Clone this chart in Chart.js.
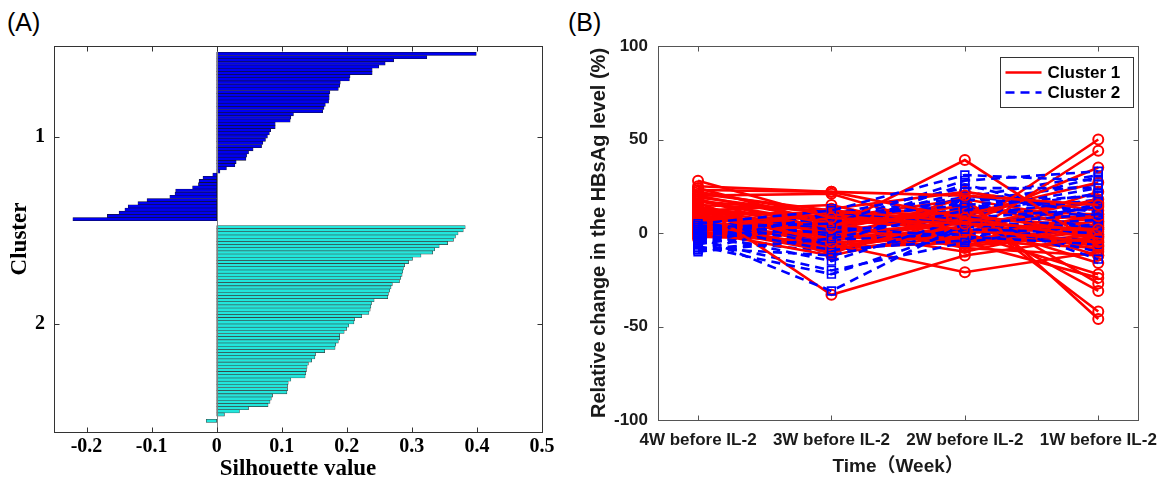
<!DOCTYPE html>
<html><head><meta charset="utf-8">
<script src="https://cdn.jsdelivr.net/npm/chart.js@4.4.1/dist/chart.umd.min.js"></script>
<style>
html,body{margin:0;padding:0;background:#fff;width:1169px;height:485px;overflow:hidden;}
#wa{position:absolute;left:0;top:0;width:560px;height:485px;}
#wb{position:absolute;left:560px;top:0;width:609px;height:485px;}
.lab{position:absolute;font-family:"Liberation Sans",Arial,sans-serif;font-size:25px;color:#000;line-height:28px;}
</style></head><body>
<div class="lab" style="left:7px;top:8px">(A)</div>
<div class="lab" style="left:568px;top:8px">(B)</div>
<div id="wa"><canvas id="ca" width="560" height="485"></canvas></div>
<div id="wb"><canvas id="cb" width="609" height="485"></canvas></div>
<script>
// ---------- Panel A: silhouette values ----------
const silCluster1 = [0.399, 0.323, 0.272, 0.259, 0.249, 0.239, 0.239, 0.205, 0.204, 0.190, 0.189, 0.187, 0.174, 0.173, 0.173, 0.172, 0.167, 0.165, 0.163, 0.118, 0.114, 0.113, 0.090, 0.090, 0.083, 0.081, 0.078, 0.075, 0.071, 0.069, 0.056, 0.049, 0.046, 0.045, 0.030, 0.028, 0.015, 0.005, -0.006, -0.021, -0.027, -0.028, -0.037, -0.063, -0.064, -0.072, -0.107, -0.121, -0.136, -0.141, -0.150, -0.168, -0.221];
const silCluster2 = [0.382, 0.379, 0.371, 0.367, 0.364, 0.355, 0.342, 0.335, 0.332, 0.314, 0.301, 0.295, 0.289, 0.287, 0.286, 0.285, 0.283, 0.281, 0.270, 0.268, 0.266, 0.264, 0.263, 0.242, 0.238, 0.237, 0.236, 0.234, 0.223, 0.212, 0.211, 0.203, 0.200, 0.196, 0.189, 0.189, 0.187, 0.183, 0.182, 0.166, 0.152, 0.151, 0.146, 0.141, 0.139, 0.138, 0.137, 0.136, 0.114, 0.110, 0.109, 0.109, 0.108, 0.086, 0.084, 0.082, 0.079, 0.049, 0.035, 0.012, 0.0, -0.016];
const silTicks = [-0.2, -0.1, 0, 0.1, 0.2, 0.3, 0.4, 0.5];
const silTickLabels = ['-0.2', '-0.1', '0', '0.1', '0.2', '0.3', '0.4', '0.5'];
const clusterNames = ['1', '2'];

// ---------- Panel B: relative change of HBsAg (%) ----------
const timeLabels = ['4W before IL-2', '3W before IL-2', '2W before IL-2', '1W before IL-2'];
const changeTicks = [-100, -50, 0, 50, 100];
const changeTickLabels = ['-100', '-50', '0', '50', '100'];
const cluster1Lines = [
  [28, 8, 5, 2], [25, 22, 20, 15], [23, 22, 8, -3], [21, 12, 6, 9], [19, 10, 2, -5],
  [17, 5, 10, 0], [15, -33, -12, -2], [14, 3, 39, -7], [13, 7, 2, 50], [12, -5, -2, 44],
  [11, 0, 5, 35], [10, 11, 10, 27], [9, -3, 19, -46], [8, 4, 12, -42], [7, -6, -21, -10],
  [6, 9, 0, -22], [5, -8, -5, -24], [4, 2, 15, -27], [3, -10, 8, -31], [2, 6, -8, -12],
  [1, -12, 3, 18], [0, 1, -10, 5], [-2, -4, 6, -16], [-3, 13, 22, 12], [18, -2, -3, -5],
  [20, 21, 0, 3], [16, -9, 4, -1], [8, -11, 14, 7], [5, 3, -4, -8], [12, 15, -1, 22],
  [22, 10, 8, 4], [20, 6, 12, 10], [18, 2, -3, 2], [15, 12, 5, -6], [14, -7, 0, 8],
  [11, 9, 14, 3], [10, -2, 6, -9], [9, 4, -6, 1], [7, 8, 18, 6], [6, -4, 3, 14],
  [4, -9, -2, -4], [3, 10, 7, -2], [1, 5, 10, 16], [0, -6, 2, -7], [-1, 0, -5, 10],
  [13, 1, 9, -12], [17, 11, 1, 6], [24, 5, -7, -1]
];
const cluster2Lines = [
  [5, 12, 31, 28], [3, 5, 28, 33], [-2, -31, 5, 10], [-7, -22, 2, 0], [-10, -3, 12, 24],
  [-5, 10, 24, 24], [0, -15, 8, 13], [2, 6, 18, 15], [-4, -20, -5, 5], [4, 0, 10, -14],
  [-8, -12, 3, 7], [1, 8, 15, 20], [-3, 3, -2, -6], [6, -6, 20, 11], [-6, 11, 6, 3],
  [3, -9, -4, 16], [-1, 2, 26, 8], [0, 4, 12, 30], [5, -4, 0, -4], [-9, 7, 16, 2],
  [2, 13, 4, 14], [-2, -1, 9, 18], [-4, 9, 17, 26], [1, -7, 11, 21], [-6, 4, 22, 12],
  [3, 7, 6, -10], [-9, -2, 14, 9], [0, 10, 19, 31], [-3, -10, -1, 4], [4, 3, 13, 17]
];
const seriesNames = ['Cluster 1', 'Cluster 2'];

// ---------- shared plugin: MATLAB-like box with inward ticks ----------
const framePlugin = {
  id: 'frame',
  afterDatasetsDraw(chart, args, opts) {
    const {ctx, chartArea: a} = chart;
    const xs = chart.scales.x, ys = chart.scales.y;
    const L = opts.tickLen || 5;
    ctx.save();
    ctx.lineWidth = 1;
    if (opts.baseline !== undefined) {
      const bx = Math.round(xs.getPixelForValue(opts.baseline)) + 0.5;
      ctx.strokeStyle = opts.baselineColor;
      ctx.beginPath(); ctx.moveTo(bx, a.top); ctx.lineTo(bx, a.bottom); ctx.stroke();
    }
    ctx.strokeStyle = opts.color;
    const l = Math.round(a.left) + 0.5, r = Math.round(a.right) + 0.5;
    const t = Math.round(a.top) + 0.5, b = Math.round(a.bottom) + 0.5;
    ctx.strokeRect(l, t, r - l, b - t);
    ctx.beginPath();
    xs.ticks.forEach(tk => {
      const px = Math.round(xs.getPixelForValue(tk.value)) + 0.5;
      ctx.moveTo(px, b); ctx.lineTo(px, b - L);
      ctx.moveTo(px, t); ctx.lineTo(px, t + L);
    });
    ys.ticks.forEach(tk => {
      const py = Math.round(ys.getPixelForValue(tk.value)) + 0.5;
      ctx.moveTo(l, py); ctx.lineTo(l + L, py);
      ctx.moveTo(r, py); ctx.lineTo(r - L, py);
    });
    ctx.stroke();
    ctx.restore();
  }
};

// ---------- Panel A chart ----------
const topGap = 2, midGap = 1.5, bottomGap = 3;
const pos1 = silCluster1.map((v, i) => topGap + 0.5 + i);
const start2 = topGap + silCluster1.length + midGap + 0.5;
const pos2 = silCluster2.map((v, i) => start2 + i);
const yMaxA = start2 + silCluster2.length - 0.5 + bottomGap;
const centers = [
  pos1.reduce((s, v) => s + v, 0) / pos1.length,
  pos2.reduce((s, v) => s + v, 0) / pos2.length
];
const serif = '"Liberation Serif", "Times New Roman", serif';

new Chart(document.getElementById('ca'), {
  type: 'bar',
  plugins: [framePlugin],
  data: {
    datasets: [
      { data: silCluster1.map((v, i) => ({x: v, y: pos1[i]})), backgroundColor: '#0000F0', borderColor: '#111133', borderWidth: 0.6, borderSkipped: false, grouped: false, barPercentage: 1, categoryPercentage: 1 },
      { data: silCluster2.map((v, i) => ({x: v, y: pos2[i]})), backgroundColor: '#22E6DC', borderColor: '#3a3a3a', borderWidth: 0.6, borderSkipped: false, grouped: false, barPercentage: 1, categoryPercentage: 1 }
    ]
  },
  options: {
    indexAxis: 'y',
    responsive: false,
    animation: false,
    layout: { padding: { top: 46, right: 18, left: 0, bottom: 0 } },
    plugins: {
      legend: { display: false },
      tooltip: { enabled: false },
      frame: { color: '#333333', tickLen: 5, baseline: 0, baselineColor: '#808080' }
    },
    scales: {
      x: {
        type: 'linear', min: -0.25, max: 0.5,
        grid: { display: false, drawTicks: false }, border: { display: false },
        afterBuildTicks: s => { s.ticks = silTicks.map(v => ({value: v})); },
        afterFit: s => { s.height = 53; },
        ticks: { padding: 3, autoSkip: false, maxRotation: 0, color: '#000',
          font: { family: serif, size: 20, weight: 'bold' },
          callback: (v, i) => silTickLabels[i] },
        title: { display: true, text: 'Silhouette value', color: '#000', padding: { top: 0, bottom: 2 },
          font: { family: serif, size: 23, weight: 'bold' } }
      },
      y: {
        type: 'linear', min: 0, max: yMaxA, reverse: true, offset: false,
        grid: { display: false, drawTicks: false }, border: { display: false },
        afterBuildTicks: s => { s.ticks = centers.map(v => ({value: v})); },
        afterFit: s => { s.width = 54; },
        ticks: { padding: 9, color: '#000', font: { family: serif, size: 20, weight: 'bold' },
          callback: (v, i) => clusterNames[i] },
        title: { display: true, text: 'Cluster', color: '#000', padding: { top: 6, bottom: 0 },
          font: { family: serif, size: 23, weight: 'bold' } }
      }
    }
  }
});

// ---------- Panel B chart ----------
const sans = '"Liberation Sans", Arial, "Noto Sans CJK SC", sans-serif';
const red = '#FF0000', blue = '#0000FF';
function lineDs(vals, isC1) {
  return {
    label: isC1 ? seriesNames[0] : seriesNames[1],
    data: vals.map((v, i) => ({x: i + 1, y: v})),
    borderColor: isC1 ? red : blue,
    borderWidth: 2.6,
    borderDash: isC1 ? [] : [9, 6],
    pointStyle: isC1 ? 'circle' : 'rect',
    pointRadius: isC1 ? 5 : 5.5,
    pointBorderWidth: isC1 ? 2 : 1.6,
    pointBorderColor: isC1 ? red : blue,
    pointBackgroundColor: 'rgba(0,0,0,0)',
    fill: false,
    tension: 0
  };
}
const lineSets = [];
const nMax = Math.max(cluster1Lines.length, cluster2Lines.length);
for (let i = 0; i < nMax; i++) {
  if (i < cluster1Lines.length) lineSets.push(lineDs(cluster1Lines[i], true));
  if (i < cluster2Lines.length) lineSets.push(lineDs(cluster2Lines[i], false));
}

const legendBoxPlugin = {
  id: 'legendBox',
  afterDraw(chart) {
    const {ctx, chartArea: a} = chart;
    const ds = chart.data.datasets;
    const firsts = seriesNames.map(n => ds.find(d => d.label === n));
    const w = 133, h = 50;
    const x0 = Math.round(a.right) - 138 + 0.5, y0 = Math.round(a.top) + 11 + 0.5;
    ctx.save();
    ctx.fillStyle = '#fff';
    ctx.fillRect(x0, y0, w, h);
    ctx.strokeStyle = '#333';
    ctx.lineWidth = 1;
    ctx.strokeRect(x0, y0, w, h);
    firsts.forEach((d, k) => {
      const cy = y0 + 15 + k * 20;
      ctx.strokeStyle = d.borderColor;
      ctx.lineWidth = 2.6;
      ctx.setLineDash(d.borderDash);
      ctx.beginPath(); ctx.moveTo(x0 + 5, cy); ctx.lineTo(x0 + 41, cy); ctx.stroke();
      ctx.setLineDash([]);
      ctx.fillStyle = '#000';
      ctx.font = 'bold 17px ' + sans;
      ctx.textBaseline = 'middle';
      ctx.textAlign = 'left';
      ctx.fillText(d.label, x0 + 47, cy + 1);
    });
    ctx.restore();
  }
};

new Chart(document.getElementById('cb'), {
  type: 'line',
  plugins: [framePlugin, legendBoxPlugin],
  data: { datasets: lineSets },
  options: {
    responsive: false,
    animation: false,
    layout: { padding: { top: 46, right: 26, left: 0, bottom: 0 } },
    plugins: {
      legend: { display: false },
      tooltip: { enabled: false },
      frame: { color: '#555555', tickLen: 5 }
    },
    scales: {
      x: {
        type: 'linear', min: 0.7, max: 4.3,
        grid: { display: false, drawTicks: false }, border: { display: false },
        afterBuildTicks: s => { s.ticks = timeLabels.map((t, i) => ({value: i + 1})); },
        afterFit: s => { s.height = 65; },
        ticks: { padding: 10, autoSkip: false, maxRotation: 0, color: '#1a1a1a',
          font: { family: sans, size: 17, weight: 'bold' },
          callback: (v, i) => timeLabels[i] },
        title: { display: true, text: 'Time（Week）', color: '#1a1a1a', padding: { top: 0, bottom: 7 },
          font: { family: sans, size: 19, weight: 'bold' } }
      },
      y: {
        type: 'linear', min: -100, max: 100,
        grid: { display: false, drawTicks: false }, border: { display: false },
        afterBuildTicks: s => { s.ticks = changeTicks.map(v => ({value: v})); },
        afterFit: s => { s.width = 98; },
        ticks: { padding: 10, color: '#1a1a1a', font: { family: sans, size: 17, weight: 'bold' },
          callback: (v, i) => changeTickLabels[i] },
        title: { display: true, text: 'Relative change in the HBsAg level (%)', color: '#1a1a1a',
          padding: { top: 27, bottom: 0 }, font: { family: sans, size: 20, weight: 'bold' } }
      }
    }
  }
});
</script>
</body></html>
